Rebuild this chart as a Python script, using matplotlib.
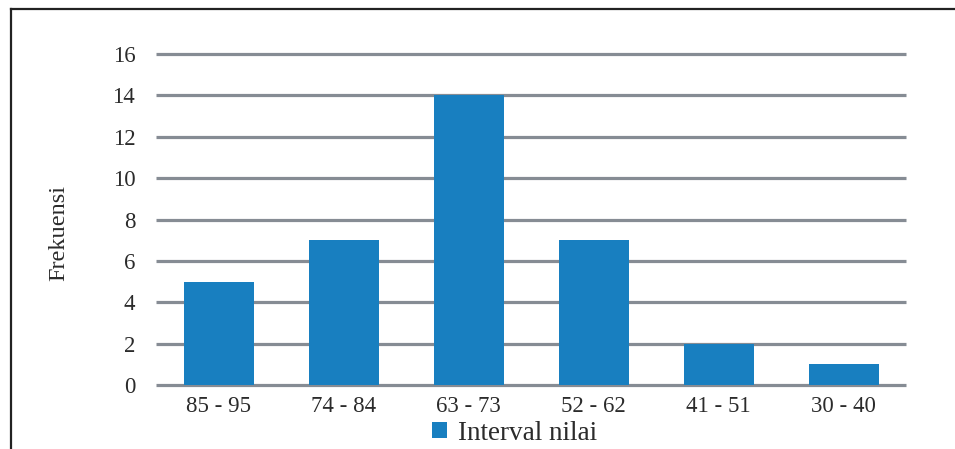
import matplotlib.pyplot as plt
from matplotlib.lines import Line2D

# data: score intervals and their frequencies
intervals = ["85 - 95", "74 - 84", "63 - 73", "52 - 62", "41 - 51", "30 - 40"]
frekuensi = [5, 7, 14, 7, 2, 1]
y_ticks = [0, 2, 4, 6, 8, 10, 12, 14, 16]

BAR_COLOR = "#187fc0"
GRID_COLOR = "#868c94"
TEXT_COLOR = "#2b2b2b"

plt.rcParams["font.family"] = ["Liberation Serif", "DejaVu Serif"]

fig = plt.figure(figsize=(9.55, 4.49), dpi=100)
ax = fig.add_axes([0.1634, 0.1425, 0.7853, 0.737])

x = range(len(intervals))
ax.bar(x, frekuensi, width=0.56, color=BAR_COLOR, zorder=3, label="Interval nilai")

ax.set_xlim(-0.5, len(intervals) - 0.5)
ax.set_ylim(0, 16)
ax.set_yticks(y_ticks)
ax.set_xticks(list(x))
ax.set_xticklabels(intervals)
ax.tick_params(axis="both", length=0, labelsize=16.5, colors=TEXT_COLOR)
ax.tick_params(axis="y", pad=15)
ax.tick_params(axis="x", pad=8)

ax.yaxis.grid(True, color=GRID_COLOR, linewidth=2.3, zorder=0)
for gl in ax.get_ygridlines():
    gl.set_clip_on(False)
    gl.set_solid_capstyle("butt")
ax.set_axisbelow(True)
for s in ax.spines.values():
    s.set_visible(False)

fig.text(0.062, 0.481, "Frekuensi", rotation=90, ha="center", va="center",
         fontsize=17.5, color=TEXT_COLOR)

# bottom legend
h, l = ax.get_legend_handles_labels()
fig.legend(h, l, loc="center", bbox_to_anchor=(0.539, 0.035), frameon=False,
           handlelength=0.55, handleheight=0.55, handletextpad=0.4,
           fontsize=19.5, labelcolor=TEXT_COLOR, borderaxespad=0)

# outer frame: top and left edges
fig.add_artist(Line2D([0.0115, 1.0], [0.98, 0.98], color="#222222", linewidth=1.6))
fig.add_artist(Line2D([0.0115, 0.0115], [0.0, 0.98], color="#222222", linewidth=1.6))

fig.savefig("out.png", dpi=100)
